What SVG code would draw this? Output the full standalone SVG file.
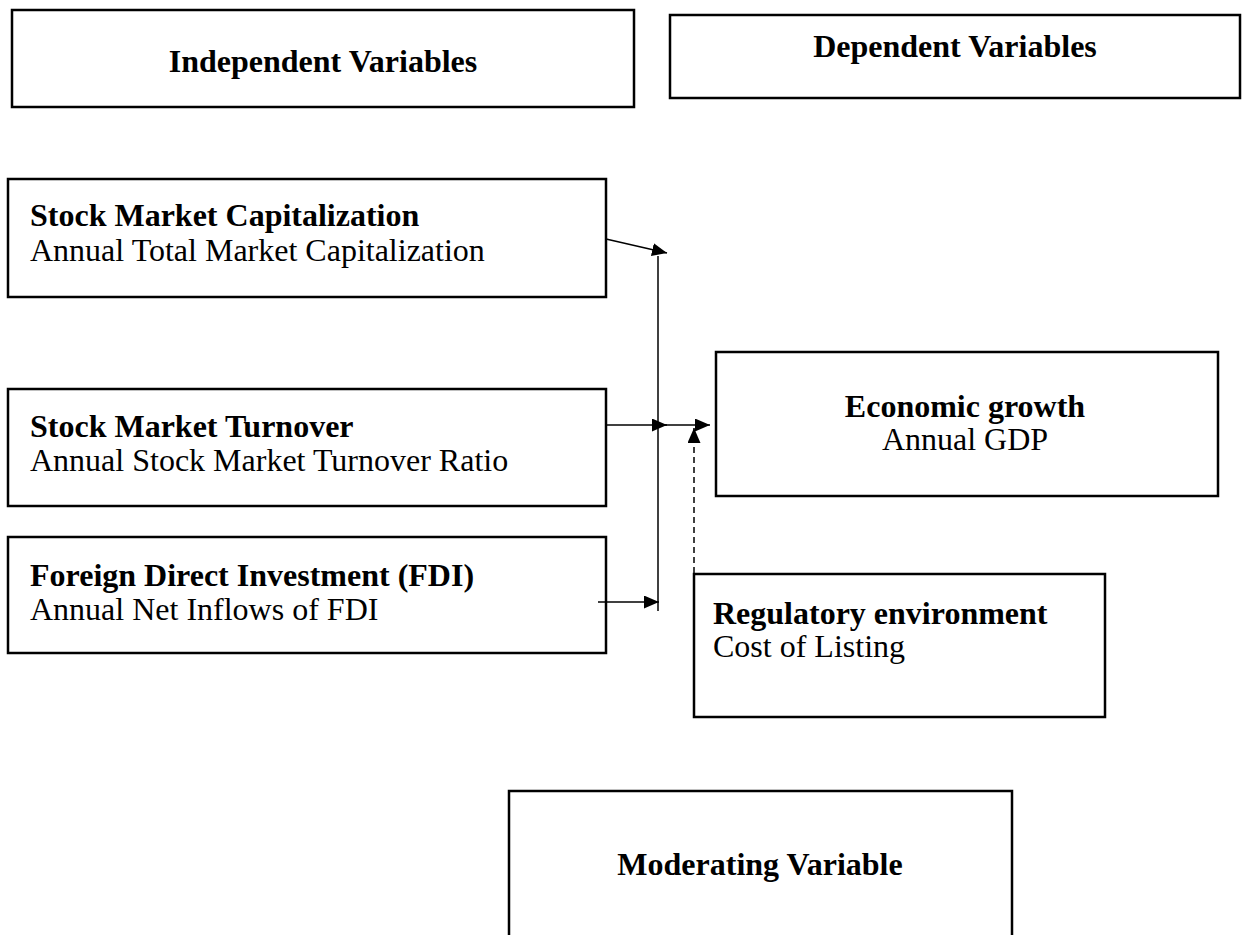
<svg xmlns="http://www.w3.org/2000/svg" width="1246" height="935" viewBox="0 0 1246 935">
<style>
.box{fill:#fff;stroke:#000;stroke-width:2.5}
.b{font-family:"Liberation Serif",serif;font-weight:bold;font-size:32px;fill:#000}
.r{font-family:"Liberation Serif",serif;font-size:32px;fill:#000}
.ln{stroke:#000;stroke-width:1.5;fill:none}
.dash{stroke:#000;stroke-width:1.5;fill:none;stroke-dasharray:6,4}
</style>
<defs>
<marker id="ah" viewBox="0 0 15 13" refX="15" refY="6.5" markerWidth="15" markerHeight="13" markerUnits="userSpaceOnUse" orient="auto">
<path d="M0,0 L15,6.5 L0,13 z" fill="#000"/>
</marker>
</defs>
<rect width="1246" height="935" fill="#fff"/>
<g id="indep">
<rect class="box" x="12" y="10" width="622" height="97"/>
<text class="b" x="323" y="72" text-anchor="middle">Independent Variables</text>
</g>
<g id="dep">
<rect class="box" x="670" y="15" width="570" height="83"/>
<text class="b" x="955" y="57" text-anchor="middle">Dependent Variables</text>
</g>
<g id="smc">
<rect class="box" x="8" y="179" width="598" height="118"/>
<text class="b" x="30" y="226">Stock Market Capitalization</text>
<text class="r" x="30" y="261">Annual Total Market Capitalization</text>
</g>
<g id="smt">
<rect class="box" x="8" y="389" width="598" height="117"/>
<text class="b" x="30" y="437">Stock Market Turnover</text>
<text class="r" x="30" y="471">Annual Stock Market Turnover Ratio</text>
</g>
<g id="fdi">
<rect class="box" x="8" y="537" width="598" height="116"/>
<text class="b" x="30" y="586">Foreign Direct Investment (FDI)</text>
<text class="r" x="30" y="620">Annual Net Inflows of FDI</text>
</g>
<g id="econ">
<rect class="box" x="716" y="352" width="502" height="144"/>
<text class="b" x="965" y="417" text-anchor="middle">Economic growth</text>
<text class="r" x="965" y="450" text-anchor="middle">Annual GDP</text>
</g>
<g id="reg">
<rect class="box" x="694" y="574" width="411" height="143"/>
<text class="b" x="713" y="624">Regulatory environment</text>
<text class="r" x="713" y="657">Cost of Listing</text>
</g>
<g id="mod">
<rect class="box" x="509" y="791" width="503" height="146"/>
<text class="b" x="760" y="875" text-anchor="middle">Moderating Variable</text>
</g>
<g id="connectors">
<line class="ln" x1="658" y1="256" x2="658" y2="611"/>
<line class="ln" x1="606" y1="239" x2="667" y2="253" marker-end="url(#ah)"/>
<line class="ln" x1="606" y1="425" x2="667" y2="425" marker-end="url(#ah)"/>
<line class="ln" x1="658" y1="425" x2="710" y2="425" marker-end="url(#ah)"/>
<line class="dash" x1="694" y1="573" x2="694" y2="428" marker-end="url(#ah)"/>
<line class="ln" x1="598" y1="602" x2="659" y2="602" marker-end="url(#ah)"/>
</g>
</svg>
